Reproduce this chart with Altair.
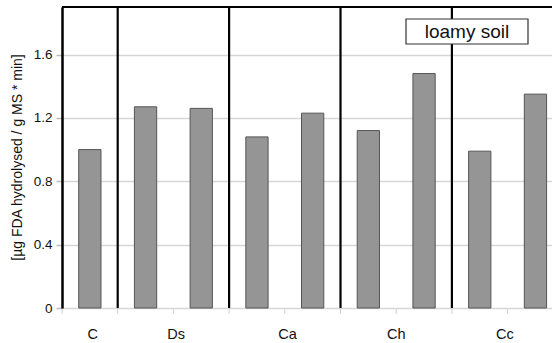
import altair as alt
import pandas as pd

# Treatments and FDA hydrolysis rates (one slot per bar)
treatments = ["C", "Ds", "Ds", "Ca", "Ca", "Ch", "Ch", "Cc", "Cc"]
fda_rate = [1.00, 1.27, 1.26, 1.08, 1.23, 1.12, 1.48, 0.99, 1.35]
slots = list(range(len(treatments)))

# Group labels, their centre positions (in slot units) and group boundaries
group_names = ["C", "Ds", "Ca", "Ch", "Cc"]
group_centres = [0.55, 2.05, 4.05, 6.0, 7.95]
group_edges = [1, 3, 5, 7]
y_ticks = [0, 0.4, 0.8, 1.2, 1.6]

X_MAX = 8.797
Y_MAX = 1.9
W, H = 490, 301
FONT = "Liberation Sans"

bars_df = pd.DataFrame({
    "treatment": treatments,
    "rate": fda_rate,
    "x0": [s + 0.3 for s in slots],
    "x1": [s + 0.7 for s in slots],
})
edges_df = pd.DataFrame({"edge": group_edges})
ticks_df = pd.DataFrame({"t": slots})
groups_df = pd.DataFrame({"name": group_names, "pos": group_centres})

xs = alt.Scale(domain=[0, X_MAX], nice=False, zero=False)
ys = alt.Scale(domain=[0, Y_MAX], nice=False)

bars = alt.Chart(bars_df).mark_bar(
    fill="#959595", stroke="#555555", strokeWidth=1
).encode(
    x=alt.X("x0:Q", scale=xs, title=None, axis=alt.Axis(
        labels=False, ticks=False, domainColor="black", domainWidth=2.2, grid=False,
    )),
    x2="x1:Q",
    y=alt.Y("rate:Q", scale=ys, title="[µg FDA hydrolysed / g MS * min]", axis=alt.Axis(
        values=y_ticks, format="~g", domainColor="black", domainWidth=2.5,
        tickColor="#bbbbbb", tickSize=6, tickWidth=1.5,
        labelFont=FONT, labelFontSize=13.5, labelColor="#111", labelPadding=4,
        grid=True, gridColor="#d6d6d6", gridWidth=1.5,
        titleFont=FONT, titleFontSize=14, titleFontWeight="normal",
        titleColor="#111", titleX=-45, titleY=150, titleAngle=-90,
        titleBaseline="middle", titleAlign="center",
    )),
    y2=alt.datum(0),
)

# Group names under the x axis
group_labels = alt.Chart(groups_df).mark_text(
    font=FONT, fontSize=14.5, color="#111", align="center", baseline="middle"
).encode(
    x=alt.X("pos:Q", scale=xs, axis=None),
    y=alt.value(H + 27),
    text="name:N",
)

# Faint ticks under the x axis at each slot boundary
xticks = alt.Chart(ticks_df).mark_rule(color="#d0d0d0", strokeWidth=1).encode(
    x=alt.X("t:Q", scale=xs, axis=None),
    y=alt.value(H + 1),
    y2=alt.value(H + 6),
)

# Vertical separators between treatment groups
separators = alt.Chart(edges_df).mark_rule(color="black", strokeWidth=2.2).encode(
    x=alt.X("edge:Q", scale=xs, axis=None),
    y=alt.value(0),
    y2=alt.value(H),
)

# Top frame line
top_line = alt.Chart(pd.DataFrame({"a": [0]})).mark_rule(
    color="black", strokeWidth=2.2
).encode(x=alt.value(0), x2=alt.value(W), y=alt.value(0))

# Soil type label box
box = alt.Chart(pd.DataFrame({"a": [0]})).mark_rect(
    fill="white", stroke="#333333", strokeWidth=1.2
).encode(x=alt.value(344), x2=alt.value(466), y=alt.value(12), y2=alt.value(37))

box_text = alt.Chart(pd.DataFrame({"label": ["loamy soil"]})).mark_text(
    font=FONT, fontSize=19, color="#111", align="center", baseline="middle"
).encode(x=alt.value(405), y=alt.value(25), text="label:N")

chart = alt.layer(
    bars, group_labels, xticks, separators, top_line, box, box_text
).properties(
    width=W, height=H,
    autosize=alt.AutoSizeParams(type="none"),
    padding={"left": 62, "top": 7, "right": 0, "bottom": 35},
    background="white",
).configure_view(stroke=None)

chart.save("out.html", embed_options={"renderer": "svg", "actions": False})
